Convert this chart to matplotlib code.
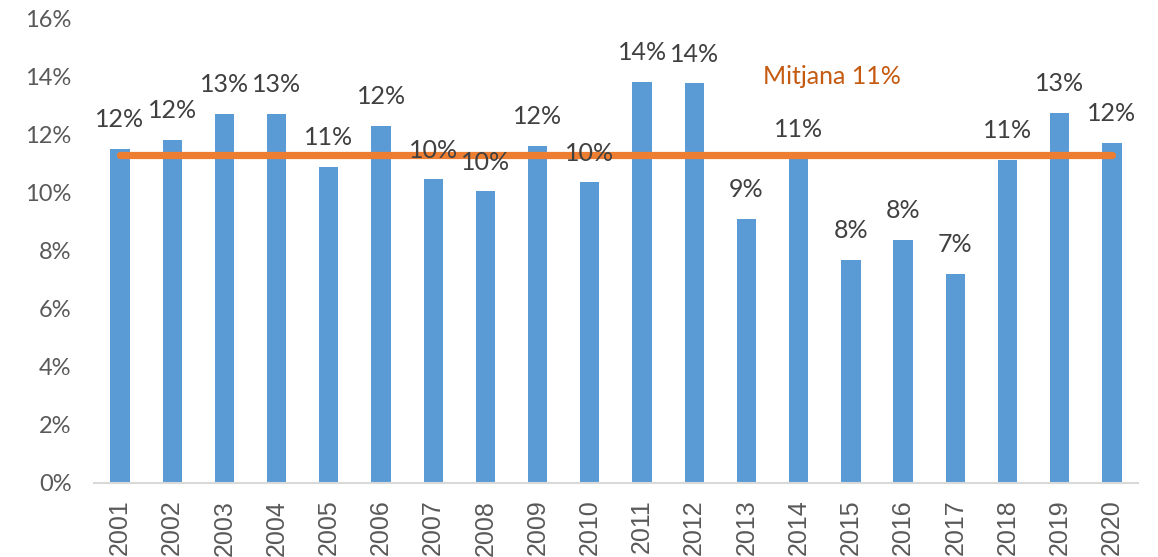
import matplotlib.pyplot as plt
import numpy as np

years = [str(y) for y in range(2001, 2021)]
values = [0.1152, 0.1184, 0.1272, 0.1272, 0.1090, 0.1231, 0.1047, 0.1006, 0.1162, 0.1037,
          0.1384, 0.1378, 0.0910, 0.1120, 0.0769, 0.0838, 0.0722, 0.1114, 0.1277, 0.1173]
labels = ["12%", "12%", "13%", "13%", "11%", "12%", "10%", "10%", "12%", "10%",
          "14%", "14%", "9%", "11%", "8%", "8%", "7%", "11%", "13%", "12%"]
mean_value = 0.1130
mean_label = "Mitjana 11%"

BLUE = "#5B9BD5"
ORANGE = "#ED7D31"
DARK_ORANGE = "#C55A11"
TEXT = "#404040"
TICK = "#595959"

plt.rcParams['font.family'] = ['Lato', 'DejaVu Sans']

fig = plt.figure(figsize=(11.58, 5.57), dpi=100)
ax = fig.add_axes([0.0811, 0.1329, 0.9016, 0.833])

x = np.arange(len(years))
ax.bar(x, values, width=0.37, color=BLUE, zorder=2)
ax.plot([x[0], x[-1]], [mean_value, mean_value], color=ORANGE, lw=5.2,
        solid_capstyle='round', zorder=3)

for xi, v, lab in zip(x, values, labels):
    ax.annotate(lab, (xi, v), xytext=(0, 21), textcoords='offset points',
                ha='center', va='center', fontsize=18, color=TEXT, zorder=4)

ax.text(13.64, 0.140, mean_label, ha='center', va='center',
        fontsize=18, color=DARK_ORANGE)

ax.set_xlim(-0.5, len(years) - 0.5)
ax.set_ylim(0, 0.16)
ax.set_yticks(np.arange(0, 0.161, 0.02))
ax.set_yticklabels([f"{t:.0%}" for t in np.arange(0, 0.161, 0.02)])
ax.set_xticks(x)
ax.set_xticklabels(years, rotation=90, family=['Liberation Sans', 'DejaVu Sans'],
                   fontsize=18, va='top')
ax.tick_params(axis='both', length=0, colors=TICK)
ax.tick_params(axis='y', labelsize=17, pad=16)
ax.tick_params(axis='x', pad=12)

for s in ['top', 'right', 'left']:
    ax.spines[s].set_visible(False)
ax.spines['bottom'].set_color("#D9D9D9")
ax.spines['bottom'].set_linewidth(1.5)

fig.savefig("out.png", dpi=100)
